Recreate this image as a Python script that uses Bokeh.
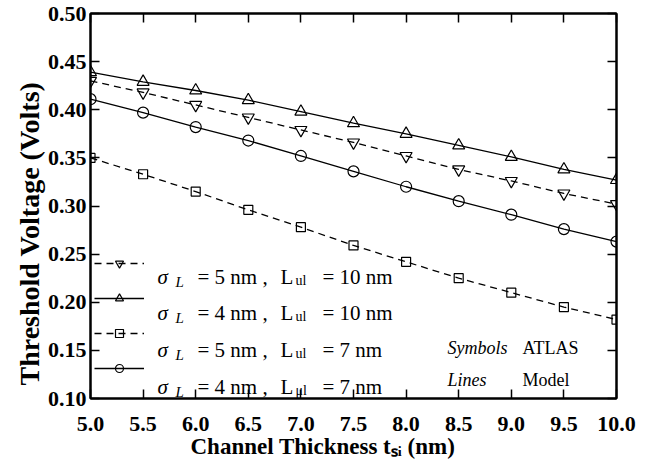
from bokeh.plotting import figure
from bokeh.models import (Range1d, LinearAxis, FixedTicker, Label, Legend,
                          LegendItem, CustomJSTickFormatter, Title)
from bokeh.embed import file_html
from bokeh.resources import INLINE

# ---------------- data ----------------
thickness = [5.0, 5.5, 6.0, 6.5, 7.0, 7.5, 8.0, 8.5, 9.0, 9.5, 10.0]
vth_s5_l10 = [0.430, 0.418, 0.405, 0.392, 0.379, 0.366, 0.352, 0.338, 0.326, 0.313, 0.302]
vth_s4_l10 = [0.439, 0.429, 0.420, 0.410, 0.398, 0.386, 0.375, 0.363, 0.351, 0.338, 0.327]
vth_s5_l7 = [0.350, 0.333, 0.315, 0.296, 0.278, 0.259, 0.242, 0.225, 0.210, 0.195, 0.182]
vth_s4_l7 = [0.411, 0.397, 0.382, 0.368, 0.352, 0.336, 0.320, 0.305, 0.291, 0.276, 0.263]

sigma_L = ["5", "4", "5", "4"]
L_ul = ["10", "10", "7", "7"]
L_sub = ["ul", "ul", "ul", "\u03bcl"]

x_ticks = [5.0, 5.5, 6.0, 6.5, 7.0, 7.5, 8.0, 8.5, 9.0, 9.5, 10.0]
x_tick_labels = ["5.0", "5.5", "6.0", "6.5", "7.0", "7.5", "8.0", "8.5", "9.0", "9.5", "10.0"]
y_ticks = [0.10, 0.15, 0.20, 0.25, 0.30, 0.35, 0.40, 0.45, 0.50]
y_tick_labels = ["0.10", "0.15", "0.20", "0.25", "0.30", "0.35", "0.40", "0.45", "0.50"]

x_title = "Channel Thickness t\u209b\u1d62 (nm)"
y_title = "Threshold Voltage (Volts)"

SERIF = "Liberation Serif"

p = figure(width=651, height=464, output_backend="svg", toolbar_location=None,
           x_range=Range1d(5.0, 10.0), y_range=Range1d(0.10, 0.50),
           min_border_left=90, min_border_right=35, min_border_top=13, min_border_bottom=66)
p.grid.visible = False
p.outline_line_color = "black"
p.outline_line_width = 2
p.background_fill_color = "white"
p.border_fill_color = "white"

def style_axis(ax, ticks, size):
    ax.ticker = FixedTicker(ticks=ticks, minor_ticks=[])
    ax.major_tick_in = 9
    ax.major_tick_out = 0
    ax.major_tick_line_width = 1.5
    ax.major_tick_line_color = "black"
    ax.minor_tick_line_color = None
    ax.axis_line_width = 2
    ax.axis_line_color = "black"
    ax.major_label_text_font = SERIF
    ax.major_label_text_font_style = "bold"
    ax.major_label_text_font_size = size
    ax.major_label_text_color = "black"

xa = p.xaxis[0]
style_axis(xa, x_ticks, "22px")
xa.major_label_overrides = dict(zip(x_ticks, x_tick_labels))
xa.major_label_standoff = 18

ya = p.yaxis[0]
style_axis(ya, y_ticks, "22px")
ya.major_label_overrides = dict(zip(y_ticks, y_tick_labels))
ya.major_label_standoff = 4

empty = CustomJSTickFormatter(code="return ''")
top = LinearAxis(formatter=empty, major_label_standoff=0)
style_axis(top, x_ticks, "1px")
p.add_layout(top, "above")
right = LinearAxis(formatter=empty, major_label_standoff=0)
style_axis(right, y_ticks, "1px")
p.add_layout(right, "right")

# axis titles as side-panel titles (allow the off-centre placement of the original)
p.add_layout(Title(text=y_title, align="left", offset=13, standoff=0,
                   text_font=SERIF, text_font_style="bold", text_font_size="28px",
                   text_color="black", vertical_align="bottom"), "left")
p.add_layout(Title(text=x_title, align="left", offset=100, standoff=0,
                   text_font=SERIF, text_font_style="bold", text_font_size="23px",
                   text_color="black", vertical_align="top"), "below")

# ---------------- series ----------------
series = [
    (vth_s5_l10, "inverted_triangle", 12, "7 5"),
    (vth_s4_l10, "triangle", 12, "solid"),
    (vth_s5_l7, "square", 9, "7 5"),
    (vth_s4_l7, "circle", 11, "solid"),
]
items = []
for vals, marker, size, dash in series:
    rl = p.line(thickness, vals, line_color="black", line_width=1.3, line_dash=dash)
    rm = p.scatter(thickness, vals, marker=marker, size=size, line_color="black",
                   fill_color=None, line_width=1.2)
    items.append(LegendItem(label=" ", renderers=[rl, rm]))

legend = Legend(items=items, location=(4, 20), glyph_width=50, glyph_height=20,
                label_height=20, label_width=1, spacing=15, padding=0, margin=0,
                border_line_color=None, background_fill_alpha=0,
                label_text_font_size="8px", label_standoff=0)
p.add_layout(legend)

def put(text, dx, dy, size, style="normal"):
    p.add_layout(Label(x=dx, y=dy, x_units="screen", y_units="screen", text=text,
                       text_font=SERIF, text_font_size=f"{size}px", text_font_style=style,
                       text_color="black", text_baseline="alphabetic", text_align="left"))

# legend texts (frame-relative screen offsets)
row_dy = [122, 86, 49, 12]
for i in range(4):
    dy = row_dy[i]
    put("\u03c3", 67, dy, 21, "italic")
    put("L", 85, dy - 5, 15, "italic")
    put(f"= {sigma_L[i]} nm ,", 107, dy, 21)
    put("L", 190, dy, 21)
    put(L_sub[i], 205, dy - 4, 14)
    put(f"= {L_ul[i]} nm", 232, dy, 21)

# Symbols / Lines note
put("Symbols", 357, 51, 18, "italic")
put("ATLAS", 432, 51, 18)
put("Lines", 357, 19, 18, "italic")
put("Model", 432, 19, 18)

open("out.html", "w").write(file_html(p, INLINE))
